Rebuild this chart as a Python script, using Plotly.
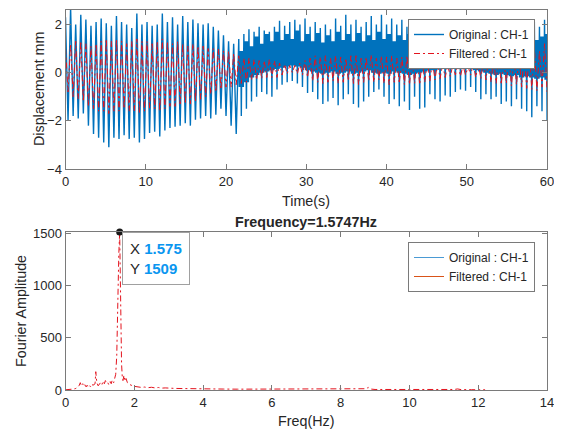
import numpy as np
import plotly.graph_objects as go

# ---------------- data ----------------
F_DOM = 1.5747          # dominant frequency (Hz), from the title
N_CLEAN = 34            # cycles before the noisy part begins (t < ~21 s)

# Original signal: per-cycle peak / trough (mm)
orig_peak = [2.3, 2.7, 2.0, 2.4, 2.2, 1.95, 2.1, 2.25, 2.05, 1.95,
             2.35, 2.1, 2.0, 1.85, 2.45, 2.0, 2.1, 1.95, 2.0, 2.45,
             2.1, 2.3, 2.0, 2.35, 2.1, 2.2, 2.05, 2.0, 2.05, 1.9,
             1.75, 1.55, 1.3, 1.2,
             1.4, 1.6, 1.8, 1.7, 1.9, 1.75, 1.7,
             1.9, 2.15, 1.95, 2.1, 2.2, 2.0, 2.25,
             1.9, 2.1, 1.85, 2.0, 1.8, 2.25, 1.95, 2.4, 2.0,
             2.2, 1.9, 2.1, 2.35, 2.0, 2.4, 2.0, 2.25, 2.0, 2.2,
             1.9, 2.1, 1.95, 2.2, 1.9, 2.0, 1.8,
             2.0, 1.9, 1.85, 2.0, 1.9, 1.8, 2.0, 1.9,
             2.05, 1.9, 2.0, 1.85, 2.0, 1.9, 2.05, 1.9, 2.0, 1.95, 2.1, 1.9, 2.2]
orig_trough = [-2.0, -1.8, -1.9, -1.7, -2.2, -2.55, -2.7, -2.9, -3.1, -2.7,
               -2.75, -2.6, -2.75, -2.7, -2.9, -2.75, -2.5, -2.45, -2.65, -2.4,
               -2.3, -2.25, -2.2, -2.1, -2.2, -1.95, -1.9, -1.8, -1.9, -1.75,
               -1.5, -1.8, -2.2, -2.55,
               -1.8, -1.5, -1.2, -1.0, -0.8, -0.9, -1.0,
               -0.7, -0.5, -0.4, -0.35, -0.45, -0.6, -0.85,
               -0.8, -1.1, -1.3, -1.2, -1.05, -1.35, -1.1, -0.9, -1.3,
               -1.45, -1.2, -1.0, -0.8, -0.7, -1.0, -1.3, -1.1, -1.4, -1.2,
               -1.55, -1.0, -1.5, -1.45, -0.9, -1.1, -1.2,
               -0.95, -1.0, -0.8, -0.7, -0.75, -0.6, -0.8, -1.1,
               -0.9, -1.1, -1.0, -1.3, -1.2, -1.4, -1.1, -1.5, -1.6, -1.85, -1.4, -1.6, -2.0]
# dense noisy band of the original after ~21 s (per cycle)
band_hi = [0.9, 1.3, 1.1, 1.5, 1.2, 1.6, 1.3,
           1.7, 1.35, 1.6, 1.4, 1.75, 1.3, 1.6,
           1.3, 1.65, 1.25, 1.55, 1.3, 1.7, 1.35, 1.6, 1.3,
           1.65, 1.3, 1.55, 1.35, 1.7, 1.4, 1.6, 1.3, 1.55, 1.35,
           1.6, 1.3, 1.5, 1.35, 1.55, 1.25, 1.5,
           1.3, 1.45, 1.2, 1.5, 1.25, 1.4, 1.2, 1.45,
           1.3, 1.5, 1.25, 1.55, 1.3, 1.5, 1.25, 1.55, 1.3, 1.6, 1.35, 1.5, 1.6]
band_lo = [-0.6, -0.4, -0.2, -0.1, 0.0, 0.05, 0.1,
           0.15, 0.2, 0.25, 0.3, 0.25, 0.2, 0.1,
           0.05, 0.0, -0.05, 0.0, 0.05, -0.05, 0.0, 0.05, -0.05,
           0.0, 0.05, 0.1, 0.0, -0.05, 0.0, -0.05, 0.05, 0.0, -0.05,
           -0.1, -0.05, 0.0, 0.05, 0.1, 0.1, 0.15,
           0.15, 0.2, 0.2, 0.15, 0.2, 0.2, 0.1, 0.05,
           0.0, -0.05, -0.1, -0.05, -0.1, -0.15, -0.1, -0.2, -0.15, -0.2, -0.25, -0.2, -0.3]

# Filtered signal: per-cycle peak / trough (mm)
filt_peak = [1.0, 1.2, 1.3, 1.3, 1.2, 1.1, 1.2, 1.3, 1.4, 1.3,
             1.4, 1.3, 1.2, 1.3, 1.4, 1.3, 1.3, 1.2, 1.3, 1.4,
             1.3, 1.2, 1.3, 1.2, 1.1, 1.2, 1.1, 1.1, 1.0, 1.0,
             1.0, 0.9, 0.9, 0.8,
             0.7, 0.6, 0.6, 0.55, 0.5, 0.5, 0.55,
             0.5, 0.4, 0.35, 0.3, 0.3, 0.4, 0.5,
             0.6, 0.7, 0.65, 0.7, 0.6, 0.7, 0.65, 0.6, 0.7,
             0.7, 0.6, 0.65, 0.75, 0.6, 0.7, 0.65, 0.7, 0.6, 0.65,
             0.7, 0.6, 0.65, 0.55, 0.5, 0.45, 0.4,
             0.35, 0.3, 0.3, 0.35, 0.3, 0.25, 0.35, 0.4,
             0.5, 0.55, 0.6, 0.65, 0.6, 0.7, 0.65, 0.75, 0.8, 0.9, 1.05, 0.9, 1.2]
filt_trough = [-0.8, -1.0, -1.1, -1.2, -1.4, -1.5, -1.6, -1.6, -1.7, -1.6,
               -1.6, -1.5, -1.6, -1.6, -1.7, -1.6, -1.5, -1.5, -1.6, -1.5,
               -1.4, -1.4, -1.3, -1.3, -1.3, -1.2, -1.1, -1.0, -0.9, -0.8,
               -0.7, -0.6, -0.6, -0.5,
               -0.45, -0.4, -0.3, -0.3, -0.25, -0.2, -0.2,
               -0.2, -0.1, -0.05, 0.0, -0.05, -0.1, -0.2,
               -0.35, -0.4, -0.45, -0.4, -0.35, -0.45, -0.4, -0.35, -0.45,
               -0.5, -0.4, -0.35, -0.4, -0.3, -0.45, -0.5, -0.4, -0.45, -0.5,
               -0.5, -0.45, -0.5, -0.4, -0.35, -0.3, -0.25,
               -0.2, -0.15, -0.1, -0.15, -0.1, -0.1, -0.2, -0.25,
               -0.3, -0.4, -0.45, -0.5, -0.45, -0.55, -0.5, -0.6, -0.65, -0.7, -0.75, -0.6, -0.8]

# Fourier amplitude spectrum
fft_freq = [0.0, 0.05, 0.1, 0.15, 0.2, 0.25, 0.3, 0.35, 0.4,
            0.43, 0.46, 0.5, 0.53, 0.56, 0.6, 0.63, 0.66, 0.7, 0.73, 0.76, 0.8, 0.83, 0.86, 0.88, 0.91, 0.95,
            1.0, 1.03, 1.06, 1.1, 1.13, 1.16, 1.2, 1.23, 1.26, 1.3, 1.33, 1.36, 1.4, 1.43, 1.46, 1.49,
            1.51, 1.53, 1.55, 1.575, 1.59, 1.61, 1.63, 1.65, 1.67, 1.7, 1.73, 1.76, 1.8, 1.85, 1.9, 1.95,
            2.0, 2.1, 2.2, 2.3, 2.4, 2.5, 2.6, 2.7, 2.8, 2.9,
            3.0, 3.2, 3.4, 3.6, 3.8, 4.0, 4.3, 4.6,
            5.0, 5.4, 5.8, 6.2, 6.6, 7.0, 7.4, 7.8, 8.2, 8.6,
            8.75, 8.8, 8.85, 9.0, 9.4, 9.8, 10.2, 10.6, 11.0, 11.3, 11.4, 11.5, 11.8, 12.2]
fft_amp = [2, 3, 5, 4, 8, 10, 15, 25, 45,
           70, 40, 60, 35, 50, 30, 45, 25, 40, 30, 55, 45, 55, 60, 175, 70, 40,
           60, 75, 55, 85, 60, 90, 65, 70, 50, 80, 60, 95, 70, 110, 150, 330,
           700, 1100, 1300, 1509, 1000, 550, 250, 130, 90, 140, 85, 110, 70, 55, 45, 40,
           35, 30, 25, 28, 22, 26, 20, 24, 18, 20,
           17, 15, 14, 12, 13, 11, 10, 9,
           8, 8, 7, 6, 6, 5, 5, 6, 5, 7,
           12, 25, 10, 5, 4, 4, 3, 4, 3, 5, 10, 4, 3, 2]

# ---------------- build traces ----------------
period = 1.0 / F_DOM
t_o, y_o = [], []
for k in range(len(orig_peak)):
    if k < N_CLEAN:
        vals = [orig_peak[k], orig_trough[k]]
    else:
        j = k - N_CLEAN
        lo, hi = band_lo[j], band_hi[j]
        vals = [orig_peak[k], lo, hi, lo, hi, orig_trough[k], hi, lo, hi, lo]
    for i, v in enumerate(vals):
        t_o.append(k * period + i * period / len(vals))
        y_o.append(v)

t_f, y_f = [], []
for k in range(len(filt_peak)):
    t_f += [k * period, k * period + period / 2]
    y_f += [filt_peak[k], filt_trough[k]]

ipk = int(np.argmax(fft_amp))
peak_f, peak_a = fft_freq[ipk], fft_amp[ipk]

FONT = "Liberation Sans, Arial, Helvetica, sans-serif"
BLUE = "#0072BD"
RED = "#E3141E"
ORANGE = "#D95319"
DASHDOT = "6px,3px,2px,3px"

# page has an 8px body margin: figure occupies window pixels 8..562 x 8..433
OFF = 8
FW, FH = 562 - OFF, 433 - OFF
def fx(px):
    return (px - OFF) / FW
def fy(py):
    return 1 - (py - OFF) / FH

fig = go.Figure()
fig.add_trace(go.Scatter(x=t_o, y=y_o, mode="lines", name="Original : CH-1",
                         line=dict(color=BLUE, width=1.4), xaxis="x", yaxis="y", legend="legend"))
fig.add_trace(go.Scatter(x=t_f, y=y_f, mode="lines", name="Filtered : CH-1",
                         line=dict(color=RED, width=1, dash=DASHDOT), xaxis="x", yaxis="y", legend="legend"))

fig.add_trace(go.Scatter(x=fft_freq, y=fft_amp, mode="lines", showlegend=False,
                         line=dict(color=RED, width=1, dash=DASHDOT), xaxis="x2", yaxis="y2"))
fig.add_trace(go.Scatter(x=[None], y=[None], mode="lines", name="Original : CH-1",
                         line=dict(color="#4a9ad4", width=1), xaxis="x2", yaxis="y2", legend="legend2"))
fig.add_trace(go.Scatter(x=[None], y=[None], mode="lines", name="Filtered : CH-1",
                         line=dict(color=ORANGE, width=1), xaxis="x2", yaxis="y2", legend="legend2"))
fig.add_trace(go.Scatter(x=[peak_f], y=[peak_a], mode="markers", showlegend=False, cliponaxis=False,
                         marker=dict(color="#1a1a1a", size=7), xaxis="x2", yaxis="y2"))

axc = dict(showline=True, linecolor="#7a7a7a", linewidth=1, mirror="ticks", ticks="inside",
           ticklen=5, tickcolor="#7a7a7a", showgrid=False, zeroline=False, automargin=False,
           tickfont=dict(family=FONT, size=13, color="#262626"))

xdom = [fx(65.5), fx(547)]
fig.update_layout(
    template="none",
    width=FW, height=FH, margin=dict(l=0, r=0, t=0, b=0, autoexpand=False),
    paper_bgcolor="white", plot_bgcolor="white",
    font=dict(family=FONT, color="#262626"),
    xaxis=dict(axc, domain=xdom, range=[0, 60], tickvals=[0, 10, 20, 30, 40, 50, 60], anchor="y"),
    yaxis=dict(axc, domain=[fy(169), fy(10)], range=[-4, 2.6], tickvals=[-4, -2, 0, 2], anchor="x"),
    xaxis2=dict(axc, domain=xdom, range=[0, 14], tickvals=list(range(0, 15, 2)), anchor="y2"),
    yaxis2=dict(axc, domain=[fy(390), fy(232)], range=[0, 1510],
                tickvals=[0, 500, 1000, 1500], anchor="x2"),
    legend=dict(x=fx(535), y=fy(19), xanchor="right", yanchor="top",
                bgcolor="white", bordercolor="#7a7a7a", borderwidth=1,
                font=dict(family=FONT, size=12, color="#262626"), tracegroupgap=0),
    legend2=dict(x=fx(535), y=fy(242), xanchor="right", yanchor="top",
                 bgcolor="white", bordercolor="#7a7a7a", borderwidth=1,
                 font=dict(family=FONT, size=12, color="#262626"), tracegroupgap=0),
    showlegend=True,
)

ann = [
    dict(text="Displacement mm", x=fx(39), y=fy(89), textangle=-90, font=dict(size=14.3)),
    dict(text="Time(s)", x=fx(306), y=fy(201), font=dict(size=14.3)),
    dict(text="Fourier Amplitude", x=fx(21), y=fy(311), textangle=-90, font=dict(size=14.3)),
    dict(text="Freq(Hz)", x=fx(306), y=fy(421), font=dict(size=14.3)),
    dict(text="<b>Frequency=1.5747Hz</b>", x=fx(306), y=fy(222), font=dict(size=14.3)),
]
for a in ann:
    a.update(xref="paper", yref="paper", showarrow=False, xanchor="center", yanchor="middle")
    a["font"].update(family=FONT, color="#262626")
    fig.add_annotation(**a)

tip = ('X <span style="color:#0a96f0"><b>%.3f</b></span><br>'
       'Y <span style="color:#0a96f0"><b>%d</b></span>') % (peak_f, peak_a)
fig.add_annotation(text=tip, xref="x2", yref="y2", x=peak_f, y=peak_a, xanchor="left", yanchor="top",
                   xshift=2, yshift=0, showarrow=False, align="left",
                   bgcolor="white", bordercolor="#a0a0a0", borderwidth=1, borderpad=7,
                   font=dict(family=FONT, size=15, color="#262626"))

fig.write_html("out.html")
